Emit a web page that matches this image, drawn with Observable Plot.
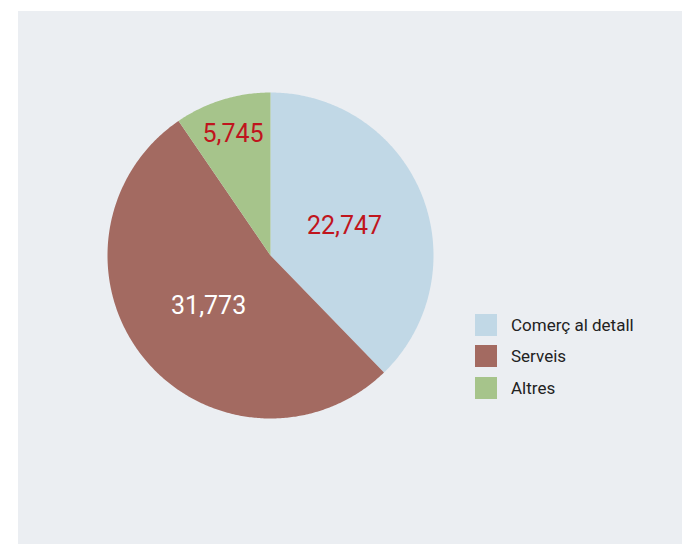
<!DOCTYPE html>
<html>
<head>
<meta charset="utf-8">
<script src="https://cdn.jsdelivr.net/npm/d3@7"></script>
<script src="https://cdn.jsdelivr.net/npm/@observablehq/plot@0.6"></script>
<style>
  html, body { margin: 0; padding: 0; background: #ffffff; }
  #page { position: relative; width: 682px; height: 544px; overflow: hidden; }
  #panel { position: absolute; left: 18px; top: 11px; width: 664px; height: 533px; background: #ebeef2; }
  #pie { position: absolute; left: 89px; top: 81px; }
  #legend { position: absolute; left: 457px; top: 298px; font-family: Roboto, "DejaVu Sans", sans-serif; font-size: 17px; color: #222; }
  .row { display: flex; align-items: center; height: 31.5px; }
  .sw { width: 22px; height: 22px; margin-right: 14px; }
</style>
</head>
<body>
<div id="page"><div id="panel"><div id="pie"></div><div id="legend"></div></div></div>
<script>
const categories = ["Comerç al detall", "Serveis", "Altres"];
const values = [22747, 31773, 5745];
const labels = ["22,747", "31,773", "5,745"];
const colors = ["#c1d8e6", "#a36a61", "#a6c48b"];
const labelColors = ["#c0151d", "#ffffff", "#c0151d"];
const labelRadius = [0.49, 0.49, 0.78];

const arcs = d3.pie().sort(null).value(d => d)(values);
const slices = [];
arcs.forEach((a, i) => {
  slices.push({cat: categories[i], x: 0, y: 0});
  const n = Math.max(2, Math.ceil((a.endAngle - a.startAngle) / 0.01));
  for (let k = 0; k <= n; k++) {
    const t = a.startAngle + (a.endAngle - a.startAngle) * k / n;
    slices.push({cat: categories[i], x: Math.sin(t), y: Math.cos(t)});
  }
});
const labelData = arcs.map((a, i) => {
  const m = (a.startAngle + a.endAngle) / 2;
  return {cat: categories[i], text: labels[i], color: labelColors[i],
          x: labelRadius[i] * Math.sin(m), y: labelRadius[i] * Math.cos(m)};
});

const chart = Plot.plot({
  width: 326, height: 326,
  margin: 0,
  style: {background: "transparent", overflow: "visible"},
  x: {domain: [-1, 1], axis: null},
  y: {domain: [-1, 1], axis: null},
  color: {domain: categories, range: colors},
  marks: [
    Plot.line(slices, {x: "x", y: "y", z: "cat", fill: "cat", stroke: "none", curve: "linear-closed"}),
    Plot.text(labelData, {x: "x", y: "y", text: "text", fill: d => d.color,
      fontSize: 25, fontFamily: "Roboto, 'DejaVu Sans', sans-serif"})
  ]
});
document.getElementById("pie").appendChild(chart);

const legend = document.getElementById("legend");
categories.forEach((c, i) => {
  const row = document.createElement("div");
  row.className = "row";
  const sw = document.createElement("div");
  sw.className = "sw";
  sw.style.background = colors[i];
  const t = document.createElement("span");
  t.textContent = c;
  row.appendChild(sw); row.appendChild(t);
  legend.appendChild(row);
});
</script>
</body>
</html>
